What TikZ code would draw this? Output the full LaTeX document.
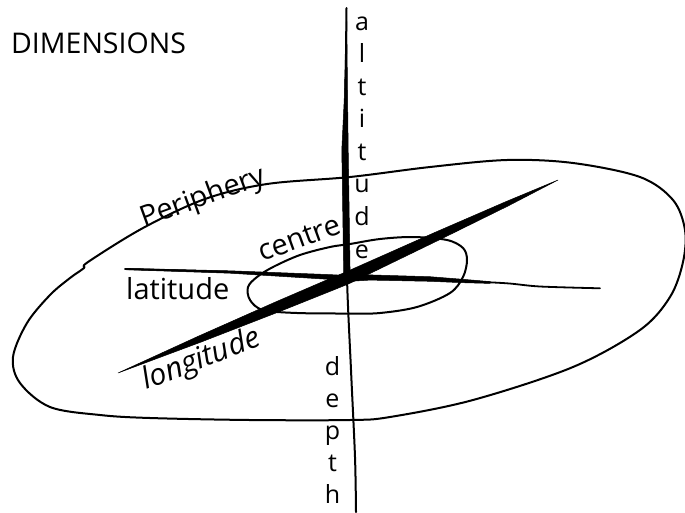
\documentclass[tikz,border=0pt]{standalone}
\usepackage{fontspec}
\setmainfont{Open Sans}
\usetikzlibrary{calc}
\tikzset{
  ink/.style={draw=black, line width=2pt},
  blob/.style={fill=black, draw=black, line width=0.5pt},
  lbl/.style={font=\fontsize{29}{32}\selectfont, inner sep=0pt, anchor=base west},
  vlet/.style={font=\fontsize{25}{27}\selectfont, inner sep=0pt, anchor=base}
}
\begin{document}
\begin{tikzpicture}[x=1pt, y=-1pt, line cap=round, line join=round]
\useasboundingbox (0,0) rectangle (685,512);

% outer periphery
\draw[ink] plot[smooth cycle, tension=0.55] coordinates {
 (88,262) (143,228) (205,199) (267,184) (350,177) (430,167) (507,160) (573,163)
 (640,177) (673,200) (685,230) (683,262) (670,297) (640,330) (573,367) (473,400)
 (390,417) (350,420) (250,420) (150,418) (100,415) (50,407) (20,383) (13,357)
 (27,323) (50,295) (70,278) (84,268)};

% inner centre loop
\draw[ink] plot[smooth cycle, tension=0.55] coordinates {
 (273,267) (300,255) (330,247) (350,244) (380,239) (413,237) (447,240) (463,248)
 (467,260) (463,277) (450,293) (417,307) (380,313) (350,313.5) (297,313) (263,310)
 (250,300) (248,287) (257,277)};

% latitude axis
\draw[line width=1.8pt] plot[smooth] coordinates {(125,269) (230,272) (330,277) (347,278.5)
 (370,277.5) (430,279) (463,281) (507,283.3) (540,286.5) (600,288.3)};
\fill[blob] (125,268.3) -- (230,270.8) -- (330,274.6) -- (347,275.5) -- (370,274.9) -- (430,276.7)
 -- (463,279.3) -- (490,281.6) -- (490,283.4) -- (463,282.7) -- (430,281.3) -- (370,280.1)
 -- (347,281.5) -- (330,279.4) -- (230,273.2) -- (125,269.7) -- cycle;

% vertical axis (altitude / depth)
\draw[ink] plot[smooth] coordinates {(346.5,8) (345.5,100) (345,150) (347,278) (351,370) (355,457) (356,512)};
\fill[blob] (346.6,8) -- (344.2,100) -- (341.8,150) -- (343.8,280) -- (350.2,280)
 -- (348.2,150) -- (347.6,100) -- cycle;

% longitude axis
\fill[blob] (118,373) -- (198.8,336.0) -- (275.0,302.2) -- (327.7,279.5) -- (344.6,272.5)
 -- (435.2,232.3) -- (506,201.6) -- (558,180) -- (508,206) -- (438.8,240.1)
 -- (349.4,283.5) -- (332.3,290.5) -- (279.0,311.8) -- (201.2,342.0) -- cycle;

% labels
\node[lbl, font=\fontsize{28.5}{30}\selectfont] (dim) at (11,53) {DIMENSIONS};
\node[lbl] (lat) at (126,299) {latitude};
\node[lbl, rotate=20] (per) at (144,228) {Periphery};
\node[lbl, rotate=20] (cen) at (262,262) {centre};
\node[lbl, rotate=21, font=\fontsize{30}{32}\selectfont\itshape] (lon) at (146,390) {longitude};

\foreach \ch/\yy [count=\i] in {a/30, l/62.6, t/95.1, i/127.7, t/160.3, u/192.9, d/225.4, e/258}
  \node[vlet] (alt\i) at (362,\yy) {\ch};
\foreach \ch/\yy [count=\i] in {d/375, e/407, p/439, t/471, h/503}
  \node[vlet] (dep\i) at (332.5,\yy) {\ch};
\end{tikzpicture}
\end{document}
